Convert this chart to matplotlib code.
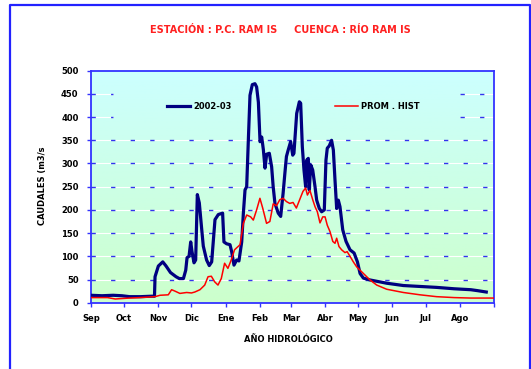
import matplotlib
matplotlib.use('Agg')
import matplotlib.pyplot as plt
from matplotlib.lines import Line2D
import numpy as np

# caudales diarios, dia contado desde el 1 de septiembre
meses = ['Sep', 'Oct', 'Nov', 'Dic', 'Ene', 'Feb', 'Mar', 'Abr', 'May', 'Jun', 'Jul', 'Ago']
inicio_mes = [0, 30, 61, 91, 122, 153, 181, 212, 242, 273, 303, 334]

dia_2002 = [0, 10, 20, 28, 35, 45, 55, 57.5, 58, 61, 65, 68, 72, 77, 80, 83.7, 85.8, 87,
            88.8, 90.3, 91.5, 93.3, 94.8, 96.3, 98.1, 100.2, 101.7, 104.7, 107.1, 109.3,
            112.3, 115.3, 119.2, 120.4, 122.8, 125.9, 127.4, 129.5, 131.9, 134, 136.5, 138,
            139.5, 141, 142.5, 144, 146.1, 148.5, 150, 151.6, 153.1, 154.6, 156.1, 157.6,
            159.1, 161.5, 163.6, 165, 166.6, 169.6, 171.8, 174, 175.6, 177, 178.6, 180.8,
            182.7, 183.8, 186.3, 188.7, 189.9, 191.4, 192.9, 194.4, 195.3, 196.8, 197.7,
            199, 200.8, 202.9, 204.4, 206.8, 208.9, 211.3, 212.8, 214, 215.8, 217.9, 219.5,
            221, 222.5, 224, 225.5, 228, 231, 234.6, 238.3, 241.3, 243.7, 246.7, 252.7,
            267.8, 282.9, 298, 313, 329, 344, 350, 358]
q_2002 = [16, 15, 16, 15, 13, 13, 14, 14, 56, 79, 88, 79, 65, 56, 52, 52, 70, 97,
          100, 131, 110, 86, 92, 233, 215, 160, 122, 92, 80, 88,
          179, 190, 193, 131, 127, 125, 110, 81, 92, 90, 131, 193,
          243, 250, 350, 447, 470, 472, 465, 432, 347, 357, 330, 290,
          320, 322, 293, 250, 214, 193, 186, 236, 279, 315, 329, 347,
          318, 322, 408, 433, 430, 336, 286, 250, 307, 311, 243,
          297, 286, 250, 221, 203, 196, 200, 307, 333, 338, 350, 329,
          264, 203, 221, 207, 157, 132, 114, 107, 88, 63, 53, 49,
          42, 37, 35, 33, 30, 28, 26, 23]

dia_hist = [0, 15, 22, 28, 35, 44, 58, 62.5, 70, 73, 76, 80.5, 86.6, 91, 94, 98.7, 103,
            106, 109, 112, 115, 118, 121, 124, 127, 130, 135, 138, 141, 144.6, 147, 150,
            153, 155.5, 159, 162, 165, 168, 171, 174, 177, 180, 183, 186, 189, 192, 194.4,
            196, 198.3, 200.8, 202.9, 205, 207.4, 209.9, 212, 214, 216.5, 219, 221, 222.5,
            224.6, 227, 230, 232, 234.6, 237.6, 240.7, 243.7, 246.7, 252.7, 258.8, 267.8,
            282.9, 298, 313, 329, 344, 365]
q_hist = [11, 11, 8, 9, 10, 11, 13, 16, 17, 28, 25, 20, 22, 21, 23, 28, 38,
          56, 57, 45, 38, 52, 85, 74, 92, 114, 125, 171, 189, 185, 178, 200,
          225, 204, 171, 175, 213, 209, 222, 225, 218, 214, 216, 204, 222, 240, 247,
          232, 242, 222, 207, 196, 172, 185, 185, 167, 153, 132, 128, 139,
          121, 114, 108, 110, 100, 88, 77, 70, 63, 49, 38, 29,
          22, 17, 13, 11, 10, 10]

plt.rcParams['font.family'] = ['DejaVu Sans']
plt.rcParams['font.weight'] = 'bold'

fig = plt.figure(figsize=(5.31, 3.69), dpi=100)
ax = fig.add_axes([91/531, 1 - 302.7/369, 403/531, 232/369])

# fondo degradado celeste -> verde claro
t = np.linspace(0, 1, 256)[:, None]
arriba = np.array([0.80, 1.0, 1.0])
abajo = np.array([0.80, 1.0, 0.80])
grad = (arriba[None, None, :] * (1 - t[:, :, None]) + abajo[None, None, :] * t[:, :, None])
ax.imshow(grad, extent=[0, 365, 0, 500], aspect='auto', zorder=0)

# lineas de grilla: blanca con guiones azules
for y in range(50, 500, 50):
    if y in (400, 450):
        tramos = [(0, 0.055), (0.915, 1)]
    else:
        tramos = [(0, 1)]
    for a, b in tramos:
        ax.axhline(y, a, b, color='white', lw=0.8, zorder=1)
        ax.axhline(y, a, b, color='#3333ee', lw=1.0, dashes=(3.1, 11), zorder=1)

ax.plot(dia_2002, q_2002, color='#000080', lw=2.3, label='2002-03', zorder=3)
ax.plot(dia_hist, q_hist, color='#ff0000', lw=1.1, label='PROM . HIST', zorder=3)

ax.set_xlim(0, 365)
ax.set_ylim(0, 500)
ax.set_xticks(inicio_mes + [365])
ax.set_xticklabels(meses + [''])
ax.set_yticks(range(0, 501, 50))
ax.tick_params(axis='both', labelsize=6, color='#3333ff', length=3, width=1)
ax.tick_params(axis='x', pad=5)
ax.tick_params(axis='y', pad=6)
for s in ax.spines.values():
    s.set_color('#3333ff')
    s.set_linewidth(1.3)

ax.legend(loc='center left', bbox_to_anchor=(0.1886, 0.844), ncol=2, frameon=False,
          fontsize=6, handlelength=2.8, handletextpad=0.4, columnspacing=12.3,
          borderpad=0, borderaxespad=0)

fig.text(280/531, 1 - 30/369, 'ESTACIÓN : P.C. RAM IS     CUENCA : RÍO RAM IS',
         color='#ff2020', fontsize=7, ha='center', va='center')
fig.text(288/531, 1 - 340/369, 'AÑO HIDROLÓGICO', fontsize=6, ha='center', va='center')
fig.text(43/531, 1 - 186/369, 'CAUDALES (m3/s', fontsize=6, rotation=90,
         ha='center', va='center')

# marco azul de la figura
x0, x1, y1 = 10/531, 530/531, 1 - 5/369
fig.add_artist(Line2D([x0, x0, x1, x1], [0, y1, y1, 0], transform=fig.transFigure,
                      color='#2222ff', lw=1.6))

fig.savefig('out.png', dpi=100)
